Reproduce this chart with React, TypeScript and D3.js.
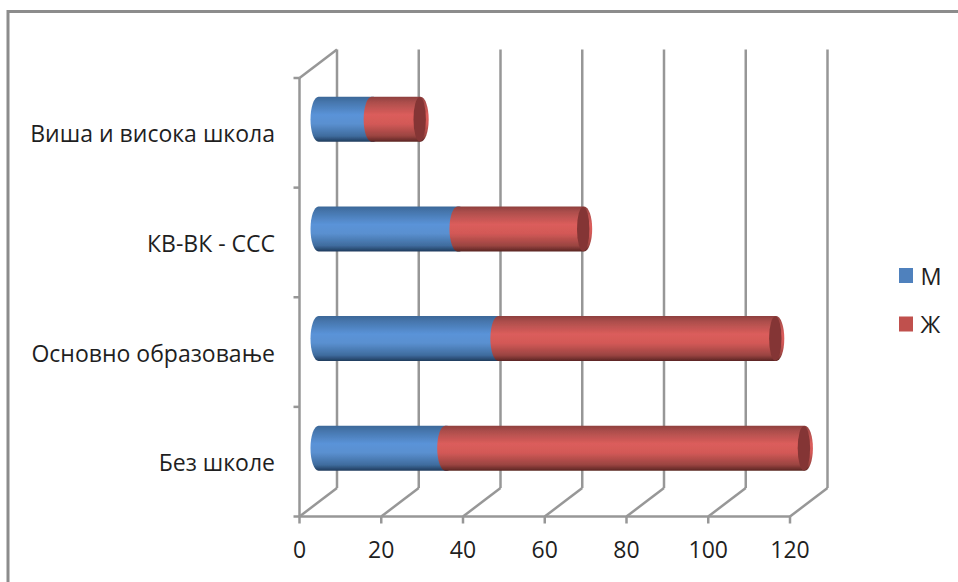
import React from "react";
import * as d3 from "d3";

const categories = ["Виша и висока школа", "КВ-ВК - ССС", "Основно образовање", "Без школе"];
const maleValues = [13, 34, 44, 31];
const femaleValues = [12, 31, 68, 88];
const seriesNames = ["М", "Ж"];
const legendColors = ["#4f81bd", "#c0504d"];
const ticks = [0, 20, 40, 60, 80, 100, 120];

const W = 958, H = 582;
const FONT = "'Open Sans', sans-serif";
const GRID = "#979797";
const x = d3.scaleLinear().domain([0, 120]).range([299.5, 790]);
const y = d3.scaleBand<string>().domain(categories).range([78, 516.5]).padding(0);
const DX = 37.5, DY = -28.5;
const BAR_DX = 19, BAR_SHIFT = -13.5, BAR_H = 45, RX = 8;

function seg(x0: number, x1: number, top: number, bot: number) {
  const ry = (bot - top) / 2;
  return `M${x0},${top}A${RX},${ry} 0 0 0 ${x0},${bot}L${x1},${bot}A${RX},${ry} 0 0 0 ${x1},${top}Z`;
}

export default function App() {
  const floor = 516.5;
  const top = 78;
  const catTicks = [...categories.map((c) => y(c) as number), floor];
  return (
    <svg width={W} height={H} style={{ position: "absolute", left: 0, top: 0, background: "#fff" }} fontFamily={FONT}>
      <defs>
        <linearGradient id="gb" x1="0" y1="0" x2="0" y2="1">
          <stop offset="0" stopColor="#3c6898" />
          <stop offset="0.12" stopColor="#4676ad" />
          <stop offset="0.4" stopColor="#5a93d8" />
          <stop offset="0.6" stopColor="#5a90d0" />
          <stop offset="0.87" stopColor="#3f6c9e" />
          <stop offset="1" stopColor="#1f3b5c" />
        </linearGradient>
        <linearGradient id="gr" x1="0" y1="0" x2="0" y2="1">
          <stop offset="0" stopColor="#8e403e" />
          <stop offset="0.12" stopColor="#ac4e4c" />
          <stop offset="0.4" stopColor="#db5d5b" />
          <stop offset="0.6" stopColor="#d35957" />
          <stop offset="0.87" stopColor="#9a4441" />
          <stop offset="1" stopColor="#5a2422" />
        </linearGradient>
        <filter id="soft" x="-5%" y="-5%" width="110%" height="110%">
          <feGaussianBlur stdDeviation="0.45" />
        </filter>
      </defs>

      <path d={`M8,582V11.5H958`} fill="none" stroke="#8c8c8c" strokeWidth={3} />

      <g stroke={GRID} strokeWidth={2.5} fill="none">
        {ticks.map((t) => (
          <g key={t}>
            <line x1={x(t) + DX} x2={x(t) + DX} y1={top + DY} y2={floor + DY} />
            <line x1={x(t)} x2={x(t) + DX} y1={floor} y2={floor + DY} />
            <line x1={x(t)} x2={x(t)} y1={floor} y2={floor + 7} />
          </g>
        ))}
        <line x1={x(0)} x2={x(120)} y1={floor} y2={floor} />
        <line x1={x(0)} x2={x(0)} y1={top} y2={floor} />
        <line x1={x(0)} x2={x(0) + DX} y1={top} y2={top + DY} />
        {catTicks.map((v, i) => (
          <line key={i} x1={x(0) - 6} x2={x(0)} y1={v} y2={v} />
        ))}
      </g>

      <g filter="url(#soft)">
        {categories.map((c, i) => {
          const t = (y(c) as number) + y.bandwidth() / 2 + BAR_SHIFT - BAR_H / 2;
          const b = t + BAR_H;
          const x0 = x(0) + BAR_DX;
          const xm = x(maleValues[i]) - x(0) + x0;
          const xe = x(maleValues[i] + femaleValues[i]) - x(0) + x0;
          return (
            <g key={c}>
              <path d={seg(x0, xm + 2, t, b)} fill="url(#gb)" />
              <path d={seg(xm, xe, t, b)} fill="url(#gr)" />
              <ellipse cx={xe - 1} cy={(t + b) / 2} rx={6.2} ry={BAR_H / 2 - 0.3} fill="#843634" />
            </g>
          );
        })}
      </g>

      <g fill="#1f1f1f" fontSize={23}>
        {categories.map((c) => (
          <text key={c} x={275} y={(y(c) as number) + y.bandwidth() / 2 + 9.5} textAnchor="end">{c}</text>
        ))}
        {ticks.map((t) => (
          <text key={t} x={x(t)} y={557.5} textAnchor="middle">{t}</text>
        ))}
      </g>

      {seriesNames.map((s, i) => (
        <g key={s}>
          <rect x={899} y={268 + i * 48.5} width={14} height={15} fill={legendColors[i]} />
          <text x={920.5} y={284.5 + i * 48.5} fontSize={23.5} fill="#1f1f1f">{s}</text>
        </g>
      ))}
    </svg>
  );
}
